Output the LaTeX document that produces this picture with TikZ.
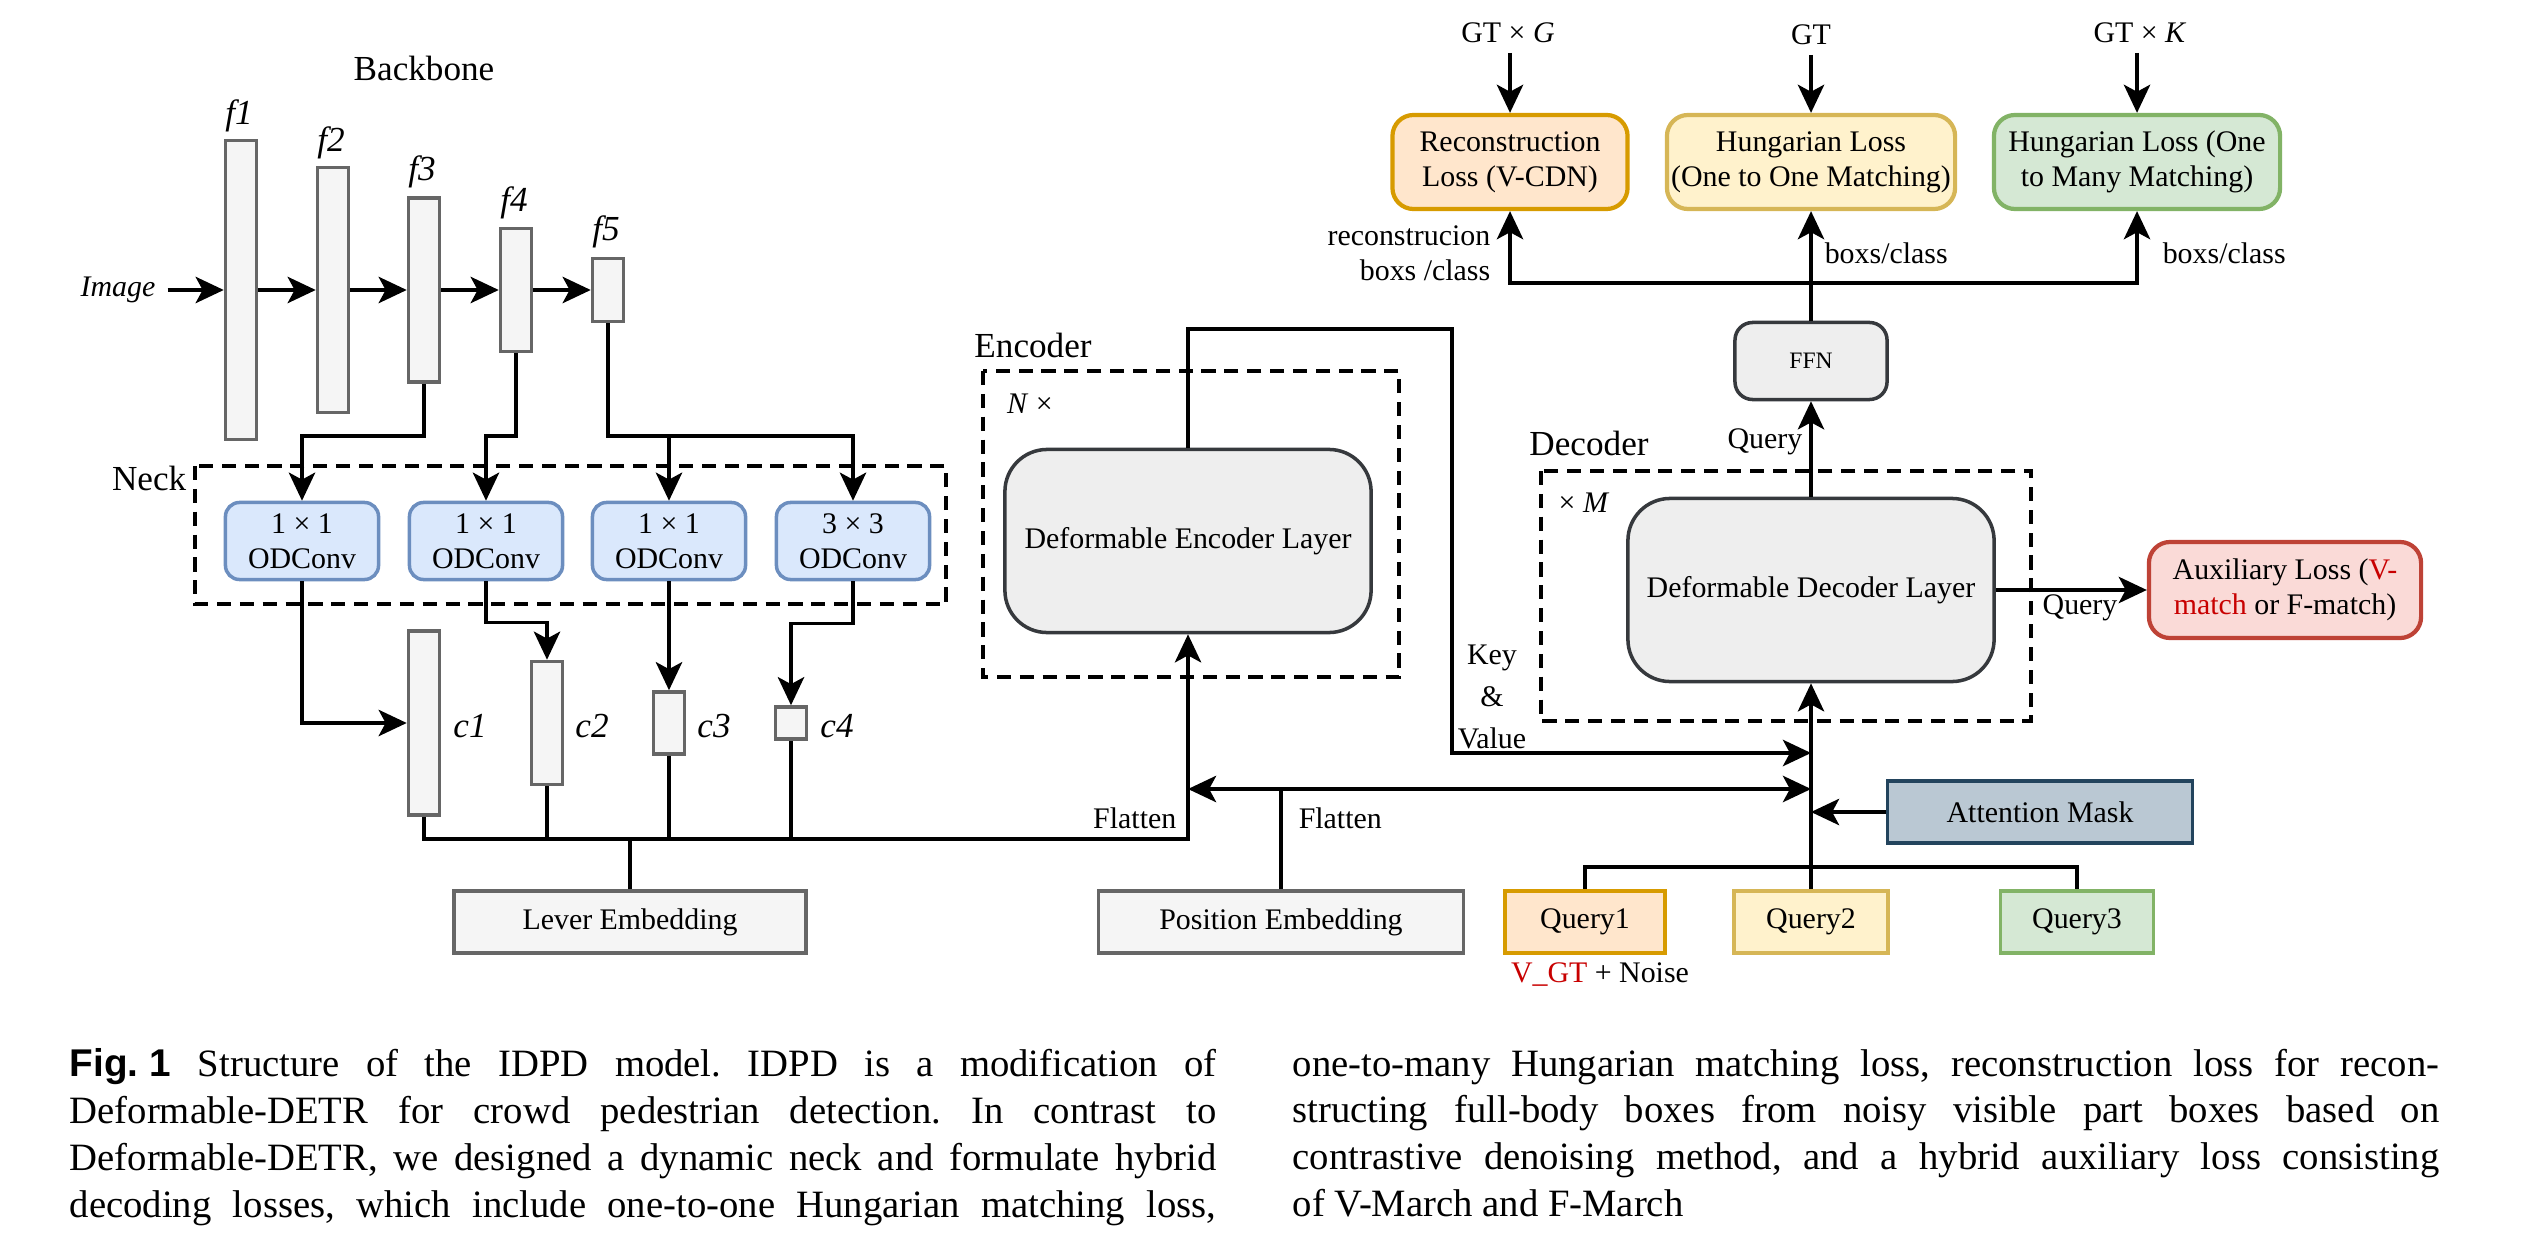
\documentclass[tikz,border=0pt]{standalone}
\usepackage{fontspec}
\setmainfont{Liberation Serif}
\newfontfamily\figsans{Liberation Sans}
\usetikzlibrary{arrows.meta}
\frenchspacing

\definecolor{featfill}{HTML}{F5F5F5}
\definecolor{featline}{HTML}{666666}
\definecolor{convfill}{HTML}{DAE8FC}
\definecolor{convline}{HTML}{6C8EBF}
\definecolor{layfill}{HTML}{EEEEEE}
\definecolor{layline}{HTML}{36393D}
\definecolor{recfill}{HTML}{FFE6CC}
\definecolor{recline}{HTML}{D79B00}
\definecolor{hunfill}{HTML}{FFF2CC}
\definecolor{hunline}{HTML}{D6B656}
\definecolor{manyfill}{HTML}{D5E8D4}
\definecolor{manyline}{HTML}{82B366}
\definecolor{auxfill}{HTML}{FADAD7}
\definecolor{auxline}{HTML}{BE4236}
\definecolor{maskfill}{HTML}{BAC8D3}
\definecolor{maskline}{HTML}{23445D}
\definecolor{vred}{HTML}{C80000}

\newcommand\boxfont{\fontsize{8.5}{10}\selectfont}
\newcommand\headfont{\fontsize{10}{12}\selectfont}
\newcommand\capline[1]{\makebox[11.46cm][s]{#1}\\}

\tikzset{
  feat/.style={draw=featline,fill=featfill,line width=1pt,minimum width=0.31cm,inner sep=0pt},
  conv/.style={draw=convline,fill=convfill,line width=1pt,rounded corners=4pt,minimum width=1.53cm,minimum height=0.77cm,align=center,font=\boxfont,inner sep=0pt},
  layer/.style={draw=layline,fill=layfill,line width=1pt,rounded corners=12pt,minimum width=3.66cm,minimum height=1.83cm,font=\boxfont},
  loss/.style={line width=1.2pt,rounded corners=6pt,minimum height=0.94cm,align=center,font=\boxfont,inner sep=0pt},
  flat/.style={line width=1pt,minimum height=0.62cm,font=\boxfont},
  frame/.style={line width=1pt,dash pattern=on 4pt off 2.5pt},
  lbl/.style={font=\boxfont,inner sep=0pt},
  head/.style={font=\headfont,inner sep=0pt}
}

\begin{document}
\begin{tikzpicture}[x=0.01cm,y=-0.01cm,line width=1pt,
  >={Stealth[length=8pt,width=7.5pt,inset=2pt]}]
\useasboundingbox (0,0) rectangle (2528,1258);

\node[head] at (424,68) {Backbone};
\node[lbl,inner xsep=3pt] (img) at (118,290) {\textit{Image}};
\node[feat,minimum height=2.99cm] (f1) at (241,290) {};
\node[feat,minimum height=2.45cm] (f2) at (333,290) {};
\node[feat,minimum height=1.84cm] (f3) at (424,290) {};
\node[feat,minimum height=1.23cm] (f4) at (516,290) {};
\node[feat,minimum height=0.63cm] (f5) at (608,290) {};
\node[head] at (239,116) {\textit{f1}};
\node[head] at (331,143) {\textit{f2}};
\node[head] at (422,172) {\textit{f3}};
\node[head] at (514,203) {\textit{f4}};
\node[head] at (606,232) {\textit{f5}};
\draw[->] (img) -- (f1);
\draw[->] (f1) -- (f2);
\draw[->] (f2) -- (f3);
\draw[->] (f3) -- (f4);
\draw[->] (f4) -- (f5);

\draw[frame] (195,466) rectangle (946,604);
\node[head,anchor=east] at (188,478) {Neck};
\node[conv] (cv1) at (302,541) {1 × 1\\ODConv};
\node[conv] (cv2) at (486,541) {1 × 1\\ODConv};
\node[conv] (cv3) at (669,541) {1 × 1\\ODConv};
\node[conv] (cv4) at (853,541) {3 × 3\\ODConv};

\coordinate (nk) at (0,436);
\draw[->] (f3.south) -- (f3.south |- nk) -| (cv1.north);
\draw[->] (f4.south) -- (f4.south |- nk) -| (cv2.north);
\draw[->] (f5.south) |- (cv4.north |- nk) -- (cv4.north);
\draw[->] (cv3.north |- nk) -- (cv3.north);

\node[feat,minimum height=1.84cm] (c1) at (424,723) {};
\node[feat,minimum height=1.23cm] (c2) at (547,723) {};
\node[feat,minimum height=0.62cm] (c3) at (669,723) {};
\node[feat,minimum height=0.32cm] (c4) at (791,723) {};
\node[head] at (470,726) {\textit{c1}};
\node[head] at (592,726) {\textit{c2}};
\node[head] at (714,726) {\textit{c3}};
\node[head] at (837,726) {\textit{c4}};
\draw[->] (cv1.south) |- (c1.west);
\draw[->] (cv2.south) -- ++(0,41) -| (c2.north);
\draw[->] (cv3.south) -- (c3.north);
\draw[->] (cv4.south) -- ++(0,42) -| (c4.north);

\node[flat,draw=featline,fill=featfill,minimum width=3.52cm] (lev) at (630,922) {Lever Embedding};
\node[flat,draw=featline,fill=featfill,minimum width=3.65cm] (pos) at (1281,922) {Position Embedding};

\draw[frame] (983,371) rectangle (1399,677);
\node[head] at (1033,345) {Encoder};
\node[lbl] at (1030,404) {\textit{N} ×};
\node[layer] (enc) at (1188,541) {Deformable Encoder Layer};

\draw[frame] (1541,471) rectangle (2031,721);
\node[head] at (1589,443) {Decoder};
\node[lbl] at (1584,503) {× \textit{M}};
\node[layer] (dec) at (1811,590) {Deformable Decoder Layer};

\node[layer,rounded corners=5pt,minimum width=1.52cm,minimum height=0.77cm,font=\fontsize{6.7}{8}\selectfont] (ffn) at (1811,361) {FFN};

\node[loss,draw=recline,fill=recfill,minimum width=2.35cm] (rec) at (1510,162) {Reconstruction\\Loss (V-CDN)};
\node[loss,draw=hunline,fill=hunfill,minimum width=2.88cm] (hg1) at (1811,162) {Hungarian Loss\\(One to One Matching)};
\node[loss,draw=manyline,fill=manyfill,minimum width=2.86cm] (hg2) at (2137,162) {Hungarian Loss (One\\to Many Matching)};
\node[lbl] (gtg) at (1508,33) {GT × \textit{G}};
\node[lbl] (gt) at (1811,35) {GT};
\node[lbl] (gtk) at (2140,33) {GT × \textit{K}};
\draw[->] (gtg.south -| rec.north) ++(0,8) -- (rec.north);
\draw[->] (gt.south -| hg1.north) ++(0,8) -- (hg1.north);
\draw[->] (gtk.south -| hg2.north) ++(0,8) -- (hg2.north);

\node[loss,draw=auxline,fill=auxfill,minimum width=2.72cm,minimum height=0.96cm] (aux) at (2285,590) {Auxiliary Loss ({\color{vred}V-}\\{\color{vred}match} or F-match)};
\node[flat,draw=maskline,fill=maskfill,minimum width=3.05cm] (mask) at (2040,812) {Attention Mask};

\node[flat,draw=recline,fill=recfill,minimum width=1.60cm] (q1) at (1585,922) {Query1};
\node[flat,draw=hunline,fill=hunfill,minimum width=1.54cm] (q2) at (1811,922) {Query2};
\node[flat,draw=manyline,fill=manyfill,minimum width=1.53cm] (q3) at (2077,922) {Query3};
\node[lbl] at (1600,975) {{\color{vred}V\_GT} + Noise};

\coordinate (bus) at (0,839);
\draw[->] (c1.south) |- (enc.south |- bus) -- (enc.south);
\foreach \c in {c2,c3,c4}
  \draw (\c.south) -- (\c.south |- bus);
\draw (lev.north) -- (lev.north |- bus);
\node[lbl,anchor=east] at (1178,818) {Flatten};

\coordinate (flt) at (0,789);
\draw[<->] (enc.south |- flt) -- (dec.south |- flt);
\draw (pos.north) -- (pos.north |- flt);
\node[lbl,anchor=west] at (1297,818) {Flatten};

\coordinate (kvtop) at (1452,329);
\coordinate (kvy) at (0,753);
\draw[->] (enc.north) |- (kvtop) |- (dec.south |- kvy);
\node[lbl,align=center,font=\fontsize{8.5}{12}\selectfont] at (1492,697) {Key\\\&\\Value};

\coordinate (qbus) at (0,867);
\draw (q1.north) |- (q3.north |- qbus) -- (q3.north);
\draw[->] (q2.north) -- (dec.south);
\draw[->] (mask.west) -- (dec.south |- mask.west);

\draw[->] (dec.east) -- (aux.west);
\node[lbl] at (2080,608) {Query};
\draw[->] (dec.north) -- (ffn.south);
\node[lbl,anchor=east] at (1804,442) {Query};

\coordinate (obus) at (0,283);
\draw[->] (ffn.north) -- (hg1.south);
\draw[->] (ffn.north |- obus) -| (rec.south);
\draw[->] (ffn.north |- obus) -| (hg2.south);
\node[lbl,align=right,anchor=east] at (1492,253) {reconstrucion\\boxs /class};
\node[lbl,anchor=west] at (1823,253) {boxs/class};
\node[lbl,anchor=west] at (2161,253) {boxs/class};

\node[anchor=north west,inner sep=0pt,align=left,font=\fontsize{11}{13.3}\selectfont] (capl) at (68,1047) {%
\capline{{\figsans\bfseries Fig.\hspace{0.28em}1}\hspace{0.7em}Structure of the IDPD model. IDPD is a modification of}%
\capline{Deformable-DETR for crowd pedestrian detection. In contrast to}%
\capline{Deformable-DETR, we designed a dynamic neck and formulate hybrid}%
\makebox[11.46cm][s]{decoding losses, which include one-to-one Hungarian matching loss,}};
\node[anchor=north west,inner sep=0pt,align=left,font=\fontsize{11}{13.3}\selectfont] (capr) at (1291,1047) {%
\capline{one-to-many Hungarian matching loss, reconstruction loss for recon-}%
\capline{structing full-body boxes from noisy visible part boxes based on}%
\capline{contrastive denoising method, and a hybrid auxiliary loss consisting}%
of V-March and F-March};
\end{tikzpicture}
\end{document}
